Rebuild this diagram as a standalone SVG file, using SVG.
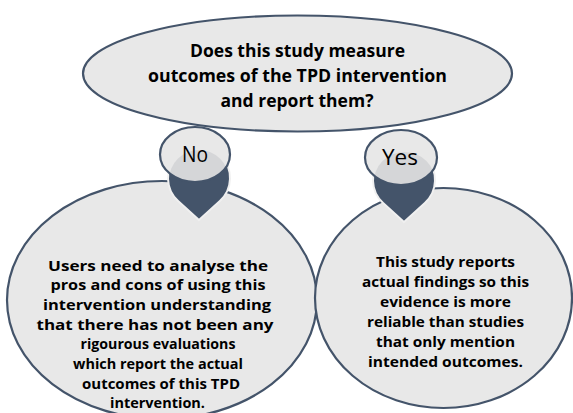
<svg xmlns="http://www.w3.org/2000/svg" width="573" height="413" viewBox="0 0 573 413">
<style>
.bub{fill:#e8e8e8;stroke:#44546a;stroke-width:2.2}
.pin{fill:#44546a;stroke:#f0f0f0;stroke-width:2}
.lbl{fill:#e8e8e8}
.lblo{fill:none;stroke:#44546a;stroke-width:2.2}
.inner{fill:#d5d6d8}
.t{font-family:"Open Sans",Lato,"Liberation Sans",sans-serif;font-weight:bold;fill:#000;text-anchor:middle}
.y{font-family:"Open Sans",Lato,"Liberation Sans",sans-serif;font-size:21px;fill:#000;text-anchor:middle}
</style>
<defs>
<clipPath id="cNo"><ellipse cx="195" cy="154.5" rx="35" ry="27.5"/></clipPath>
<clipPath id="cYes"><ellipse cx="401" cy="157.5" rx="36" ry="27.5"/></clipPath>
</defs>
<rect width="573" height="413" fill="#fff"/>
<g id="question">
<ellipse class="bub" cx="297.5" cy="73.5" rx="214.5" ry="58"/>
<text class="t" font-size="17"><tspan x="297.5" y="57" textLength="215" lengthAdjust="spacingAndGlyphs">Does this study measure</tspan><tspan x="297.5" y="82" textLength="299" lengthAdjust="spacingAndGlyphs">outcomes of the TPD intervention</tspan><tspan x="297" y="107" textLength="153" lengthAdjust="spacingAndGlyphs">and report them?</tspan></text>
</g>
<g id="no-outcome">
<ellipse class="bub" cx="162" cy="300" rx="155" ry="119"/>
<text class="t" font-size="15"><tspan x="158" y="270.5" textLength="220" lengthAdjust="spacingAndGlyphs">Users need to analyse the</tspan><tspan x="158" y="290.2" textLength="215" lengthAdjust="spacingAndGlyphs">pros and cons of using this</tspan><tspan x="157" y="309.9" textLength="228" lengthAdjust="spacingAndGlyphs">intervention understanding</tspan><tspan x="155" y="329.6" textLength="237" lengthAdjust="spacingAndGlyphs">that there has not been any</tspan><tspan x="158" y="349.3" textLength="155" lengthAdjust="spacingAndGlyphs">rigourous evaluations</tspan><tspan x="158" y="369" textLength="170" lengthAdjust="spacingAndGlyphs">which report the actual</tspan><tspan x="161" y="388.7" textLength="158" lengthAdjust="spacingAndGlyphs">outcomes of this TPD</tspan><tspan x="157.5" y="408.4" textLength="95" lengthAdjust="spacingAndGlyphs">intervention.</tspan></text>
</g>
<g id="yes-outcome">
<ellipse class="bub" cx="443.5" cy="298" rx="128.5" ry="110"/>
<text class="t" font-size="15"><tspan x="445.5" y="267" textLength="139" lengthAdjust="spacingAndGlyphs">This study reports</tspan><tspan x="445.5" y="287" textLength="167" lengthAdjust="spacingAndGlyphs">actual findings so this</tspan><tspan x="445.5" y="307" textLength="131" lengthAdjust="spacingAndGlyphs">evidence is more</tspan><tspan x="445.5" y="327" textLength="157" lengthAdjust="spacingAndGlyphs">reliable than studies</tspan><tspan x="445.5" y="347" textLength="139" lengthAdjust="spacingAndGlyphs">that only mention</tspan><tspan x="445.5" y="367" textLength="155" lengthAdjust="spacingAndGlyphs">intended outcomes.</tspan></text>
</g>
<g id="connectors">
<g id="pin-no">
<path class="pin" d="M199 220 L178.1 200.9 A31 31 0 1 1 219.9 200.9 Z"/>
<ellipse class="lbl" cx="195" cy="154.5" rx="35" ry="27.5"/>
<circle class="inner" cx="199" cy="180" r="30" clip-path="url(#cNo)"/>
<ellipse class="lblo" cx="195" cy="154.5" rx="35" ry="27.5"/>
<text class="y" x="195" y="162" textLength="26" lengthAdjust="spacingAndGlyphs">No</text>
</g>
<g id="pin-yes">
<path class="pin" d="M404 222 L383.1 202.9 A31 31 0 1 1 424.9 202.9 Z"/>
<ellipse class="lbl" cx="401" cy="157.5" rx="36" ry="27.5"/>
<circle class="inner" cx="404.5" cy="183" r="31" clip-path="url(#cYes)"/>
<ellipse class="lblo" cx="401" cy="157.5" rx="36" ry="27.5"/>
<text class="y" x="400" y="165" textLength="36" lengthAdjust="spacingAndGlyphs">Yes</text>
</g>
</g>
</svg>
